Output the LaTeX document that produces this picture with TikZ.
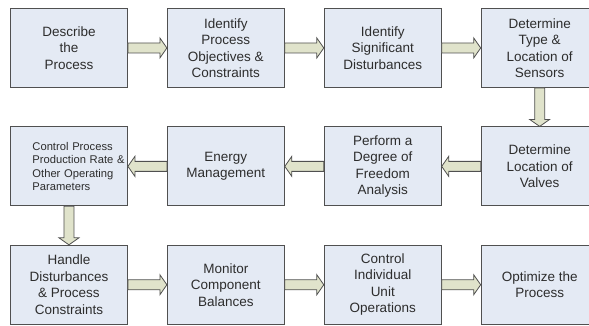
\documentclass[tikz,border=0pt]{standalone}
\usepackage{fontspec}
\setmainfont{Liberation Sans}
\usetikzlibrary{positioning,calc}
\definecolor{boxfill}{RGB}{228,234,244}
\definecolor{boxline}{RGB}{80,80,80}
\definecolor{arrowfill}{RGB}{224,227,203}
\definecolor{textgray}{RGB}{45,45,45}

\begin{document}
\begin{tikzpicture}[x=1pt, y=1pt, node distance = 38.5pt and 39pt,
    stepbox/.style={rectangle, draw=boxline, fill=boxfill, line width=0.9pt, text=textgray,
      minimum width=117pt, minimum height=79pt, inner sep=0pt, align=center,
      font=\fontsize{13.5}{16.5}\selectfont},
    blockarrow/.style={draw=boxline, fill=arrowfill, line width=0.8pt, line join=miter,
      to path={let \p1=(\tikztostart), \p2=(\tikztotarget),
        \n1={atan2(\y2-\y1,\x2-\x1)}, \n2={veclen(\x2-\x1,\y2-\y1)} in
        [shift={(\p1)}, rotate=\n1] (0,5pt) -- ({(\n2-7)*1pt},5pt) -- ({(\n2-7)*1pt},10pt)
        -- ({\n2*1pt},0pt) -- ({(\n2-7)*1pt},-10pt) -- ({(\n2-7)*1pt},-5pt) -- (0,-5pt) -- cycle}}]
      \useasboundingbox (0,0) rectangle (589,-325);

      \node[stepbox, anchor=north west] (1) at (10,-8) {Describe\\the\\Process};
      \node[stepbox] (2) [right=of 1] {Identify\\Process\\Objectives \&\\Constraints};
      \node[stepbox] (3) [right=of 2] {Identify\\Significant\\Disturbances};
      \node[stepbox] (4) [right=of 3] {Determine\\Type \&\\Location of\\Sensors};
      \node[stepbox] (5) [below=of 4] {Determine\\Location of\\Valves};
      \node[stepbox] (6) [left=of 5] {Perform a\\Degree of\\Freedom\\Analysis};
      \node[stepbox] (7) [left=of 6] {Energy\\Management};
      \node[stepbox, text width=117pt, align=left, font=\fontsize{11.2}{13.4}\selectfont] (8) [left=of 7]
        {\hspace*{22pt}Control Process\\\hspace*{22pt}Production Rate \&\\
         \hspace*{22pt}Other Operating\\\hspace*{22pt}Parameters};
      \node[stepbox] (9) [below=of 8] {Handle\\Disturbances\\\& Process\\Constraints};
      \node[stepbox] (10) [right=of 9] {Monitor\\Component\\Balances};
      \node[stepbox] (11) [right=of 10] {Control\\Individual\\Unit\\Operations};
      \node[stepbox] (12) [right=of 11] {Optimize the\\Process};

      \path[blockarrow] (1.east) to (2.west);
      \path[blockarrow] (2.east) to (3.west);
      \path[blockarrow] (3.east) to (4.west);
      \path[blockarrow] (4.south) to (5.north);
      \path[blockarrow] (5.west) to (6.east);
      \path[blockarrow] (6.west) to (7.east);
      \path[blockarrow] (7.west) to (8.east);
      \path[blockarrow] (8.south) to (9.north);
      \path[blockarrow] (9.east) to (10.west);
      \path[blockarrow] (10.east) to (11.west);
      \path[blockarrow] (11.east) to (12.west);
    \end{tikzpicture}
\end{document}
